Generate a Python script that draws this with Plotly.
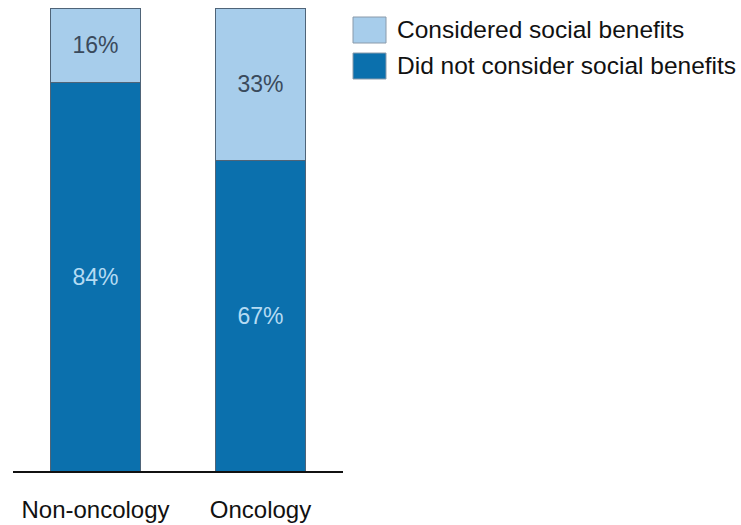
import plotly.graph_objects as go

categories = ["Non-oncology", "Oncology"]
did_not_consider = [84, 67]
considered = [16, 33]
series_names = ["Did not consider social benefits", "Considered social benefits"]

dark = "#0b70ad"
light = "#a7cdeb"
edge = "#4f6478"
font = "Liberation Sans, Arial, sans-serif"

fig = go.Figure()
fig.add_trace(go.Bar(
    x=categories, y=did_not_consider, name=series_names[0],
    marker=dict(color=dark, line=dict(color=edge, width=1)),
    text=[f"{v}%" for v in did_not_consider], textposition="inside",
    insidetextanchor="middle",
    textfont=dict(color="#b4dbf3", size=23, family=font),
    width=0.55, showlegend=False,
))
fig.add_trace(go.Bar(
    x=categories, y=considered, name=series_names[1],
    marker=dict(color=light, line=dict(color=edge, width=1)),
    text=[f"{v}%" for v in considered], textposition="inside",
    insidetextanchor="middle",
    textfont=dict(color="#3a4a5c", size=23, family=font),
    width=0.55, showlegend=False,
))

# manual legend (large swatches)
legend_items = [(series_names[1], light), (series_names[0], dark)]
for i, (name, col) in enumerate(legend_items):
    y0 = 17 + i * 36
    fig.add_shape(type="rect", xref="paper", yref="paper",
                  x0=(353 - 13) / 330, x1=(386 - 13) / 330,
                  y0=(471 - (y0 + 26)) / 463, y1=(471 - y0) / 463,
                  fillcolor=col, line=dict(color="#8a9aaa", width=1))
    fig.add_annotation(xref="paper", yref="paper",
                       x=(395 - 13) / 330, y=(471 - (y0 + 13)) / 463,
                       xanchor="left", yanchor="middle", text=name,
                       showarrow=False,
                       font=dict(size=24.5, color="#111111", family=font))

fig.update_layout(
    barmode="stack",
    width=741, height=525,
    margin=dict(l=13, r=398, t=8, b=54),
    paper_bgcolor="white", plot_bgcolor="white",
    font=dict(family=font),
    uniformtext=dict(mode=False),
)
fig.update_xaxes(
    showline=True, linecolor="#111111", linewidth=1.5,
    tickfont=dict(size=24, color="#111111", family=font),
    ticks="", ticklabelstandoff=16, range=[-0.5, 1.5],
    automargin=False,
)
fig.update_yaxes(visible=False, range=[0, 100], showgrid=False, automargin=False)

fig.write_html(
    "out.html",
    config={"displayModeBar": False},
    post_script="document.body.style.margin='0';document.body.style.overflow='hidden';",
)
